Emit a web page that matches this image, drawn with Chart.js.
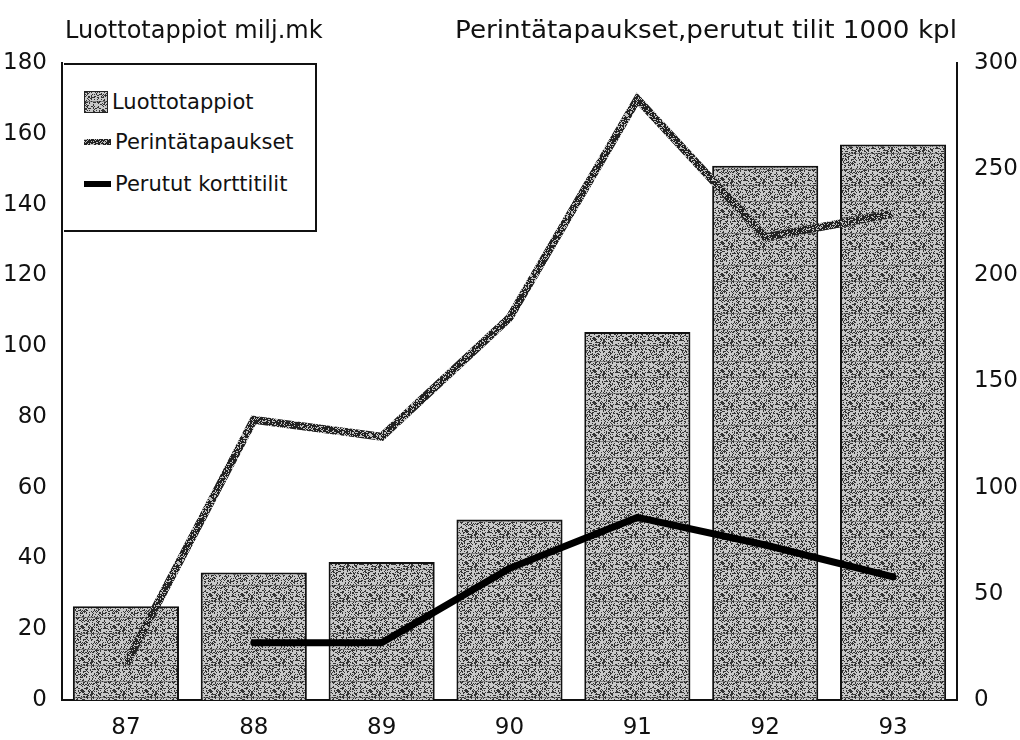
<!DOCTYPE html>
<html>
<head>
<meta charset="utf-8">
<script src="https://cdn.jsdelivr.net/npm/chart.js@4.4.1/dist/chart.umd.min.js"></script>
<style>
  html, body { margin: 0; padding: 0; background: #fff; }
  #wrap { position: relative; width: 1020px; height: 740px; }
  #legend {
    position: absolute; left: 64px; top: 63px; width: 253px; height: 169px;
    border: 2px solid #111; border-left: none; background: #fff; box-sizing: border-box;
    font-family: "DejaVu Sans", sans-serif; font-size: 21px; color: #111;
  }
  .item { position: absolute; left: 20px; height: 28px; display: flex; align-items: center; white-space: nowrap; }
  .sw-box { width: 24px; height: 22px; border: 1px solid #222; box-sizing: border-box; margin-right: 4px; }
  .sw-line { width: 27px; height: 6px; margin-right: 4px; }
</style>
</head>
<body>
<div id="wrap">
  <canvas id="chart" width="1020" height="740"></canvas>
  <div id="legend">
    <div class="item" style="top:23px"><div class="sw-box" id="swBar"></div>Luottotappiot</div>
    <div class="item" style="top:63px"><div class="sw-line" id="swPer"></div>Perintätapaukset</div>
    <div class="item" style="top:105px"><div class="sw-line" style="background:#000"></div>Perutut korttitilit</div>
  </div>
</div>
<script>
// Data
const years = ['87', '88', '89', '90', '91', '92', '93'];
const luottotappiot = [26.5, 36, 39, 51, 104, 151, 157];        // milj.mk, left axis
const perintatapaukset = [17, 132, 124, 180, 283, 218, 229];     // 1000 kpl, right axis
const perututTilit = [null, 27, 27, 62, 86, 73, 58];             // 1000 kpl, right axis
const leftTicks = [0, 20, 40, 60, 80, 100, 120, 140, 160, 180];
const rightTicks = [0, 50, 100, 150, 200, 250, 300];

const titleLeft = 'Luottotappiot milj.mk';
const titleRight = 'Perintätapaukset,perutut tilit 1000 kpl';

// speckled grey texture like the printed raster
function makeTexture(base, dot, density, lines) {
    const c = document.createElement('canvas');
    c.width = 32; c.height = 32;
    const g = c.getContext('2d');
    g.fillStyle = base;
    g.fillRect(0, 0, 32, 32);
    let s = 7;
    g.fillStyle = dot;
    for (let y = 0; y < 32; y++) {
        for (let x = 0; x < 32; x++) {
            s = (s * 1103515245 + 12345) & 0x7fffffff;
            if ((s % 1000) / 1000 < density) g.fillRect(x, y, 1, 1);
        }
    }
    if (lines) {
        g.fillStyle = 'rgba(40,40,40,0.45)';
        g.fillRect(0, 9, 32, 1);
        g.fillRect(0, 25, 32, 1);
    }
    return c;
}

const barTex = makeTexture('#c8c8c8', '#333', 0.34, true);
const lineTex = makeTexture('#222', '#c0c0c0', 0.3, false);
document.getElementById('swBar').style.background = 'url(' + barTex.toDataURL() + ')';
document.getElementById('swPer').style.background = 'url(' + lineTex.toDataURL() + ')';

const ctx = document.getElementById('chart').getContext('2d');
const barPattern = ctx.createPattern(barTex, 'repeat');
const linePattern = ctx.createPattern(lineTex, 'repeat');

const tickFont = { family: 'DejaVu Sans', size: 23 };

const titlePlugin = {
    id: 'axisTitles',
    afterDraw(chart) {
        const c = chart.ctx;
        const area = chart.chartArea;
        c.save();
        c.fillStyle = '#111';
        c.font = '24px "DejaVu Sans"';
        c.textBaseline = 'middle';
        c.textAlign = 'left';
        c.fillText(titleLeft, area.left + 3, area.top - 31);
        // right title, stretched a little like the scan
        const w = c.measureText(titleRight).width;
        const target = 502;
        c.translate(area.right - target, area.top - 31);
        c.scale(target / w, 1);
        c.fillText(titleRight, 0, 0);
        c.restore();
    }
};

new Chart(ctx, {
    type: 'bar',
    data: {
        labels: years,
        datasets: [
            {
                type: 'line',
                label: 'Perintätapaukset',
                data: perintatapaukset,
                yAxisID: 'y1',
                borderColor: linePattern,
                borderWidth: 8,
                pointRadius: 0,
                tension: 0,
                borderJoinStyle: 'miter',
                order: 0
            },
            {
                type: 'line',
                label: 'Perutut korttitilit',
                data: perututTilit,
                yAxisID: 'y1',
                borderColor: '#000',
                borderWidth: 7,
                pointRadius: 0,
                tension: 0,
                borderCapStyle: 'round',
                order: 0
            },
            {
                label: 'Luottotappiot',
                data: luottotappiot,
                yAxisID: 'y',
                backgroundColor: barPattern,
                borderColor: '#111',
                borderWidth: 2,
                borderSkipped: 'bottom',
                categoryPercentage: 1.0,
                barPercentage: 0.83,
                order: 1
            }
        ]
    },
    options: {
        responsive: false,
        animation: false,
        layout: { padding: { top: 63, left: 0, right: 0, bottom: 0 } },
        plugins: {
            legend: { display: false },
            tooltip: { enabled: false }
        },
        scales: {
            x: {
                grid: { display: false },
                border: { display: true, color: '#111', width: 2 },
                ticks: { color: '#111', font: tickFont, padding: 6 },
                afterFit: s => { s.height = 40; }
            },
            y: {
                position: 'left',
                min: 0, max: 180,
                afterBuildTicks: s => { s.ticks = leftTicks.map(v => ({ value: v })); },
                grid: { display: false },
                border: { display: true, color: '#111', width: 2 },
                ticks: { color: '#111', font: tickFont, padding: 7 },
                afterFit: s => { s.width = 62; }
            },
            y1: {
                position: 'right',
                min: 0, max: 300,
                afterBuildTicks: s => { s.ticks = rightTicks.map(v => ({ value: v })); },
                grid: { display: false },
                border: { display: true, color: '#111', width: 2 },
                ticks: { color: '#111', font: tickFont, padding: 9 },
                afterFit: s => { s.width = 63; }
            }
        }
    },
    plugins: [titlePlugin]
});
</script>
</body>
</html>
